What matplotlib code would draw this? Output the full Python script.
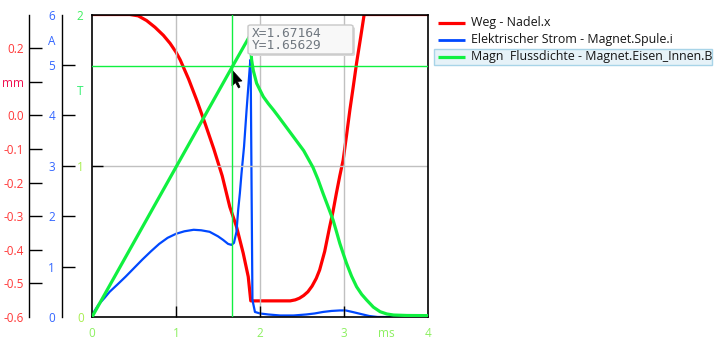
import matplotlib
matplotlib.use("Agg")
import matplotlib.pyplot as plt
import numpy as np
from matplotlib.patches import FancyBboxPatch, Polygon

# ---- data ----
t_weg = [0.0, 0.45, 0.55, 0.65, 0.75, 0.85, 0.93, 1.0, 1.05, 1.15, 1.25, 1.35, 1.45, 1.55, 1.64,
         1.72, 1.80, 1.86, 1.89, 2.36, 2.42, 2.47, 2.52, 2.57, 2.62, 2.67, 2.71, 2.77, 2.83, 2.87, 2.91,
         2.95, 2.99, 3.03, 3.07, 3.11, 3.15, 3.2, 3.24, 4.0]
weg = [0.3, 0.3, 0.296, 0.282, 0.262, 0.238, 0.214, 0.188, 0.165, 0.108, 0.043, -0.027, -0.10, -0.18, -0.272,
       -0.331, -0.41, -0.48, -0.552, -0.552, -0.549, -0.544, -0.536, -0.525, -0.508, -0.485, -0.46, -0.405, -0.331,
       -0.285, -0.231, -0.18, -0.133, -0.06, 0.016, 0.085, 0.156, 0.235, 0.3, 0.3]

t_strom = [0.0, 0.03, 0.08, 0.15, 0.21, 0.3, 0.4, 0.5, 0.6, 0.7, 0.8, 0.9, 1.0, 1.1, 1.21, 1.30, 1.40, 1.50,
           1.56, 1.62, 1.66, 1.69, 1.72, 1.74, 1.76, 1.78, 1.81, 1.84, 1.87, 1.885, 1.89, 1.90, 1.91,
           1.94, 2.0, 2.1, 2.24, 2.4, 2.55, 2.65, 2.75, 2.85, 2.95, 3.02, 3.1, 3.2, 3.3, 3.4, 4.0]
strom = [0.0, 0.12, 0.25, 0.38, 0.50, 0.64, 0.80, 0.97, 1.14, 1.30, 1.45, 1.57, 1.65, 1.70, 1.73, 1.72, 1.69, 1.60,
         1.53, 1.45, 1.43, 1.47, 1.69, 2.12, 2.45, 2.85, 3.38, 4.10, 4.77, 5.1, 4.77, 2.5, 0.34,
         0.10, 0.07, 0.05, 0.03, 0.03, 0.05, 0.07, 0.10, 0.12, 0.13, 0.13, 0.10, 0.06, 0.02, 0.0, 0.0]

t_fluss = [0.0, 1.67164, 1.88, 1.89, 1.90, 1.92, 1.96, 2.0, 2.04, 2.10, 2.16, 2.22, 2.28, 2.34, 2.40,
           2.46, 2.52, 2.57, 2.63, 2.69, 2.75, 2.81, 2.87, 2.91, 2.95, 2.99, 3.03, 3.09, 3.15, 3.21,
           3.27, 3.35, 3.43, 3.51, 3.59, 3.75, 4.0]
fluss = [0.0, 1.65629, 1.86, 1.78, 1.70, 1.63, 1.545, 1.50, 1.456, 1.41, 1.369, 1.325, 1.28, 1.235, 1.19,
         1.145, 1.10, 1.05, 0.99, 0.91, 0.818, 0.73, 0.641, 0.565, 0.487, 0.42, 0.355, 0.27, 0.20, 0.15,
         0.112, 0.065, 0.035, 0.02, 0.013, 0.01, 0.009]

x_ticks = [0, 1, 2, 3, 3.5, 4]
x_labels = ["0", "1", "2", "3", "ms", "4"]
red_ticks = [0.2, 0.1, 0.0, -0.1, -0.2, -0.3, -0.4, -0.5, -0.6]
red_labels = ["0.2", "mm", "0.0", "-0.1", "-0.2", "-0.3", "-0.4", "-0.5", "-0.6"]
blue_ticks = [0, 1, 2, 3, 4, 5, 5.5, 6]
blue_labels = ["0", "1", "2", "3", "4", "5", "A", "6"]
green_ticks = [0, 1, 1.5, 2]
green_labels = ["0", "1", "T", "2"]

cursor_x = 1.67164
cursor_y = 1.65629

RED = "#ff0000"
BLUE = "#0048ff"
GREEN = "#10f040"

plt.rcParams['font.family'] = ['Open Sans', 'DejaVu Sans']

fig = plt.figure(figsize=(7.14, 3.42), dpi=100)
W, H = 714, 342
L, R, T, B = 92, 428, 14.5, 317
ax = fig.add_axes([L / W, 1 - B / H, (R - L) / W, (B - T) / H])
ax.set_xlim(0, 4)
ax.set_ylim(0, 2)
ax.set_zorder(3)
ax.patch.set_visible(False)

ax_b = ax.twinx()
ax_r = ax.twinx()
for a, pos in ((ax_b, (62 - L) / (R - L)), (ax_r, (29.5 - L) / (R - L))):
    a.yaxis.set_ticks_position('left')
    a.yaxis.set_label_position('left')
    a.spines['left'].set_position(('axes', pos))
    for s in ('right', 'top', 'bottom'):
        a.spines[s].set_visible(False)
    a.spines['left'].set_color('black')
    a.spines['left'].set_linewidth(1.0)

ax_b.set_ylim(0, 6)
ax_r.set_ylim(-0.6, 0.3)
ax_r.set_zorder(2)
ax_b.set_zorder(2.5)

# grid
for xv in [1, 2, 3]:
    ax.axvline(xv, color="#c0c0c0", lw=1.0, zorder=0)
ax.axhline(1, color="#c0c0c0", lw=1.0, zorder=0)

# curves
ax_r.plot(t_weg, weg, color=RED, lw=2.3, solid_joinstyle='round')
ax_b.plot(t_strom, strom, color=BLUE, lw=1.6, solid_joinstyle='round')
ax.plot(t_fluss, fluss, color=GREEN, lw=2.3, zorder=4, solid_joinstyle='round')

# crosshair
ax.axvline(cursor_x, color=GREEN, lw=1.0, zorder=5)
ax.axhline(cursor_y, color=GREEN, lw=1.0, zorder=5)

TS = 8.5
# ticks
ax.set_xticks(x_ticks)
ax.set_xticklabels(x_labels)
ax.tick_params(axis='x', direction='in', length=8, width=1, colors='black',
               labelcolor="#8cf060", labelsize=TS, pad=7)
for i in (0, 4, 5):
    ax.xaxis.get_major_ticks()[i].tick1line.set_visible(False)

ax.set_yticks(green_ticks)
ax.set_yticklabels(green_labels)
ax.tick_params(axis='y', direction='in', length=8, width=1, colors='black',
               labelcolor="#a8ee50", labelsize=TS, pad=6)
for i in (0, 2, 3):
    ax.yaxis.get_major_ticks()[i].tick1line.set_visible(False)
ax.get_yticklabels()[2].set_color("#30f070")
ax.get_yticklabels()[3].set_color("#40f060")

ax_b.set_yticks(blue_ticks)
ax_b.set_yticklabels(blue_labels)
ax_b.tick_params(axis='y', direction='in', length=9, width=1, colors='black',
                 labelcolor="#3366ff", labelsize=TS, pad=5)
for i in (0, 6, 7):
    ax_b.yaxis.get_major_ticks()[i].tick1line.set_visible(False)

ax_r.set_yticks(red_ticks)
ax_r.set_yticklabels(red_labels)
ax_r.tick_params(axis='y', direction='in', length=9, width=1, colors='black',
                 labelcolor="#ff3838", labelsize=TS, pad=4)
ax_r.yaxis.get_major_ticks()[8].tick1line.set_visible(False)
ax_r.get_yticklabels()[1].set_color("#f01050")

for s in ax.spines.values():
    s.set_color('black')
    s.set_linewidth(1.2)

# tooltip
tip = FancyBboxPatch((248 / W, 1 - 54 / H), 105 / W, 29 / H, boxstyle="round,pad=0,rounding_size=0.004",
                     transform=fig.transFigure, facecolor="#f8f8f8", edgecolor="#c8c8c8", lw=1.0, zorder=10)
shadow = FancyBboxPatch((250 / W, 1 - 56 / H), 105 / W, 29 / H, boxstyle="round,pad=0,rounding_size=0.004",
                        transform=fig.transFigure, facecolor="#d8d8d8", edgecolor="none", zorder=9)
fig.patches.extend([shadow, tip])
fig.text(252 / W, 1 - 39.5 / H, f"X={cursor_x:.5f}\nY={cursor_y:.5f}", family="DejaVu Sans Mono",
         fontsize=9.3, color="#707880", va='center', ha='left', linespacing=0.95, zorder=11)

# mouse cursor
pts = [(232, 70), (232, 86), (235.5, 82.5), (238.5, 88), (240, 87), (237.5, 81.5), (242, 81)]
cur = Polygon([(x / W, 1 - y / H) for x, y in pts], closed=True, transform=fig.transFigure,
              facecolor='black', edgecolor='black', lw=0.5)
fig.patches.append(cur)

# legend
leg = fig.add_axes([0, 0, 1, 1])
leg.set_xlim(0, W)
leg.set_ylim(H, 0)
leg.axis('off')
leg.add_patch(plt.Rectangle((434, 48.5), 278, 16.5, facecolor="#e6f2f8", edgecolor="#a8d4e8", lw=1.0))
entries = [("Weg - Nadel.x", RED, 22.5), ("Elektrischer Strom - Magnet.Spule.i", BLUE, 39.5),
           ("Magn  Flussdichte - Magnet.Eisen_Innen.B", GREEN, 56.5)]
for label, col, yy in entries:
    leg.plot([438, 465], [yy, yy], color=col, lw=2.3 if col != BLUE else 2.0, solid_capstyle='butt')
    leg.text(471, yy, label, fontsize=8.9, color="#151515", va='center', ha='left')

fig.savefig("out.png", dpi=100)
